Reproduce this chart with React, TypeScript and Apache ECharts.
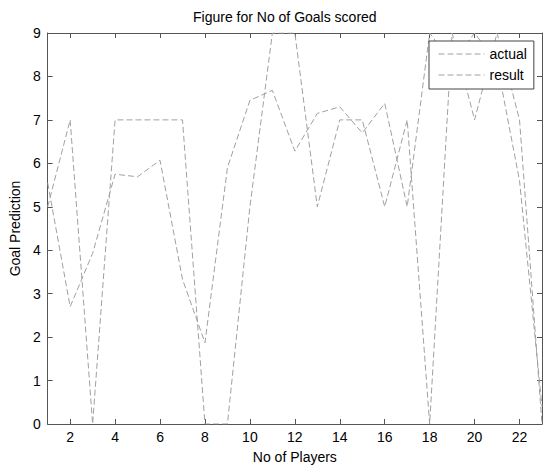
import React, { useEffect, useRef } from "react";
import * as echarts from "echarts";

const players = [1, 2, 3, 4, 5, 6, 7, 8, 9, 10, 11, 12, 13, 14, 15, 16, 17, 18, 19, 20, 21, 22, 23];
const actual = [5, 7, 0, 7, 7, 7, 7, 0, 0, 5, 9, 9, 5, 7, 7, 5, 7, 0, 9, 7, 9, 7, 0];
const result = [5.55, 2.7, 3.93, 5.75, 5.69, 6.07, 3.33, 1.87, 5.9, 7.45, 7.68, 6.28, 7.15, 7.3, 6.7, 7.38, 5.0, 9.0, 8.3, 9.0, 8.3, 5.6, 0.4];
const xTicks = [2, 4, 6, 8, 10, 12, 14, 16, 18, 20, 22];
const seriesNames = ["actual", "result"];

const FONT = "Liberation Sans, Arial, Helvetica, sans-serif";
const FS = 14;
const LINE_COLOR = "#a0a0a0";
const AXIS_COLOR = "#555";

export default function App() {
  const ref = useRef<HTMLDivElement>(null);

  useEffect(() => {
    document.body.style.margin = "0";
    const chart = echarts.init(ref.current!, null, { renderer: "svg" });

    const xBase = {
      type: "value" as const,
      min: 1,
      max: 23,
      splitLine: { show: false },
      axisLine: { show: true, onZero: false, lineStyle: { color: AXIS_COLOR, width: 1 } },
      axisTick: { show: true, inside: true, length: 5, customValues: xTicks, lineStyle: { color: AXIS_COLOR } },
    };
    const yBase = {
      type: "value" as const,
      min: 0,
      max: 9,
      interval: 1,
      splitLine: { show: false },
      axisLine: { show: true, onZero: false, lineStyle: { color: AXIS_COLOR, width: 1 } },
      axisTick: { show: true, inside: true, length: 5, lineStyle: { color: AXIS_COLOR } },
    };

    const mk = (vals: number[]) => players.map((p, i) => [p, vals[i]]);

    chart.setOption({
      animation: false,
      backgroundColor: "#ffffff",
      title: {
        text: "Figure for No of Goals scored",
        left: 188,
        top: 5,
        textStyle: { fontFamily: FONT, fontSize: FS, fontWeight: "normal", color: "#000" },
      },
      grid: { left: 44, right: 1, top: 33, bottom: 42, containLabel: false },
      legend: {
        data: seriesNames,
        orient: "vertical",
        left: 429,
        top: 41,
        padding: [6, 7, 7, 9],
        itemWidth: 46,
        itemHeight: 14,
        itemGap: 7,
        backgroundColor: "#ffffff",
        borderColor: "#444",
        borderWidth: 1,
        itemStyle: { opacity: 0 },
        lineStyle: { color: LINE_COLOR, type: [6, 3], width: 1 },
        textStyle: { fontFamily: FONT, fontSize: FS, color: "#000" },
      },
      xAxis: [
        {
          ...xBase,
          position: "bottom",
          name: "No of Players",
          nameLocation: "middle",
          nameGap: 26,
          nameTextStyle: { fontFamily: FONT, fontSize: FS, color: "#000" },
          axisLabel: { show: true, customValues: xTicks, margin: 6, fontFamily: FONT, fontSize: FS, color: "#000" },
        },
        {
          ...xBase,
          position: "top",
          axisLabel: { show: false },
        },
      ],
      yAxis: [
        {
          ...yBase,
          position: "left",
          name: "Goal Prediction",
          nameLocation: "middle",
          nameGap: 24,
          nameTextStyle: { fontFamily: FONT, fontSize: FS, color: "#000" },
          axisLabel: { show: true, margin: 7, fontFamily: FONT, fontSize: FS, color: "#000" },
        },
        {
          ...yBase,
          position: "right",
          axisLabel: { show: false },
        },
      ],
      series: [
        {
          name: seriesNames[0],
          type: "line",
          data: mk(actual),
          symbol: "none",
          showSymbol: false,
          lineStyle: { color: LINE_COLOR, type: [6, 3], width: 1 },
          itemStyle: { color: LINE_COLOR },
          z: 2,
        },
        {
          name: seriesNames[1],
          type: "line",
          data: mk(result),
          symbol: "none",
          showSymbol: false,
          lineStyle: { color: LINE_COLOR, type: [6, 3], width: 1 },
          itemStyle: { color: LINE_COLOR },
          z: 2,
        },
      ],
    });

    return () => chart.dispose();
  }, []);

  return <div ref={ref} style={{ width: 543, height: 469 }} />;
}
